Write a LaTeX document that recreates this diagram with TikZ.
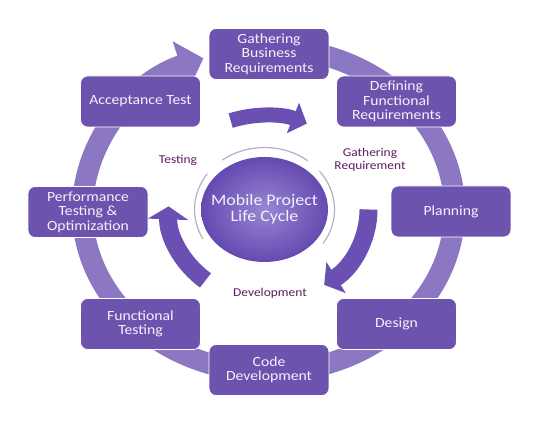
\documentclass[tikz,border=0pt]{standalone}
\usepackage{fontspec}
\setmainfont{Carlito}
\usetikzlibrary{arrows.meta,shapes.geometric}

\definecolor{boxpurple}{RGB}{108,84,174}
\definecolor{ringpurple}{RGB}{140,120,194}
\definecolor{arrowpurple}{RGB}{106,80,178}
\definecolor{labelpurple}{RGB}{92,30,96}
\definecolor{boxtext}{RGB}{244,241,250}
\definecolor{thinline}{RGB}{186,170,206}
\definecolor{corelight}{RGB}{152,134,210}
\definecolor{coredark}{RGB}{100,74,176}

\begin{document}
\begin{tikzpicture}[x=0.8929pt, y=1pt, xscale=1.12, transform shape,
    stage/.style={rounded corners=7pt, fill=boxpurple, draw=white, line width=0.8pt,
        minimum width=107pt, minimum height=51pt, inner sep=1pt, align=center,
        text=boxtext, font=\fontsize{14}{14.5}\selectfont},
    phase/.style={align=center, text=labelpurple, font=\fontsize{12}{13.3}\selectfont},
    thin arc/.style={draw=thinline, line width=1.2pt, line cap=round},
    turn/.style={draw=arrowpurple, line width=18pt}]
    \useasboundingbox (0,0) rectangle (545,424);

    % outer cycle behind the stages
    \coordinate (hub) at (268.5,214);
    \draw[ringpurple, line width=21pt, -{Triangle[width=50pt,length=24pt]}]
        ([shift={(85:186 and 162)}]hub)
        arc[start angle=85, end angle=-249.5, x radius=186, y radius=162];

    \foreach \name/\pos/\txt in {
        gather/{269,370}/{Gathering\\Business\\Requirements},
        define/{396.5,322.5}/{Defining\\Functional\\Requirements},
        plan/{451,212.5}/{Planning},
        design/{396.5,100}/{Design},
        code/{269,54}/{Code\\Development},
        ftest/{140.5,100}/{Functional\\Testing},
        perf/{88,212}/{Performance\\Testing \&\\Optimization},
        accept/{140.5,322.5}/{Acceptance Test}} {
        \node[stage] (\name) at (\pos) {\txt};
    }

    % inner cycle
    \node[ellipse, minimum width=113.4pt, minimum height=105pt, inner sep=0pt,
        inner color=corelight, outer color=coredark,
        label={[align=center, text=boxtext, font=\fontsize{16}{15.7}\selectfont]center:Mobile Project\\Life Cycle}]
        (core) at (264.5,214.5) {};

    \foreach \a/\b in {52/127,145/208,38/-33}
        \draw[thin arc] ([shift={(\a:70 and 62)}]core.center)
            arc[start angle=\a, end angle=\b, x radius=70, y radius=62];

    \draw[turn, line width=15pt, -{Triangle[width=32pt,length=15pt]}]
        ([shift={(109:104 and 94)}]core.center)
        arc[start angle=109, end angle=66, x radius=104, y radius=94];
    \draw[turn, -{Triangle[width=36pt,length=14pt]}]
        ([shift={(0:104 and 92)}]core.center)
        arc[start angle=0, end angle=-55, x radius=104, y radius=92];
    \draw[turn, -{Triangle[width=40pt,length=13pt]}]
        ([shift={(232:96 and 90)}]core.center)
        arc[start angle=232, end angle=178, x radius=96, y radius=90];

    \node[phase] (testing) at (178,264) {Testing};
    \node[phase] (gathering) at (370,264) {Gathering\\Requirement};
    \node[phase] (development) at (270,131) {Development};
\end{tikzpicture}
\end{document}
